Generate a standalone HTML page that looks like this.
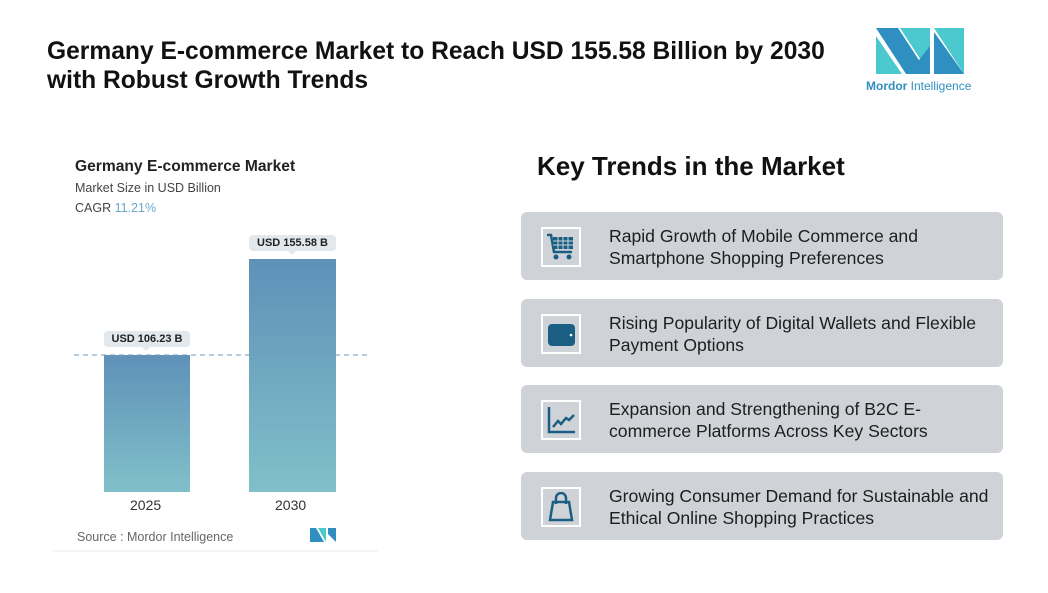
<!DOCTYPE html>
<html><head><meta charset="utf-8"><style>
body{margin:0;width:1048px;height:593px;background:#fff;font-family:"Liberation Sans",sans-serif;position:relative;overflow:hidden}
.a{position:absolute}
h1{position:absolute;left:47px;top:37px;margin:0;font-size:24.6px;line-height:29px;font-weight:bold;color:#111;white-space:nowrap}
.box{position:absolute;left:521px;width:482px;height:68px;background:#cfd3d8;border-radius:6px}
.ic{position:absolute;left:20px;top:15px;width:36px;height:36px;border:2px solid #fff;display:flex;align-items:center;justify-content:center}
.tx{position:absolute;left:88px;top:13px;font-size:17.6px;line-height:22px;color:#1d1d1d;white-space:nowrap}
.pill{position:absolute;background:#e3e8ec;border-radius:4px;font-size:11px;font-weight:bold;color:#222;text-align:center;line-height:16px;height:16px}
</style></head><body>
<h1>Germany E-commerce Market to Reach USD 155.58 Billion by 2030<br>with Robust Growth Trends</h1>
<svg class="a" style="left:874px;top:26px" width="94" height="50">
<polygon points="2,10 2,48 28,48" fill="#4cc9cf"/>
<polygon points="2,2 24,2 54,48 32,48" fill="#2f8fc0"/>
<polygon points="26,2 56,2 56,48" fill="#4cc9cf"/>
<polygon points="34,48 56,48 56,20" fill="#2f8fc0"/>
<polygon points="60,2 90,2 90,48" fill="#4cc9cf"/>
<polygon points="60,6 90,48 60,48" fill="#2f8fc0"/>
</svg>
<div class="a" style="left:866px;top:79px;font-size:12px;color:#2f8fc0"><b>Mordor</b> Intelligence</div>

<div class="a" style="left:75px;top:158px;font-size:15.6px;font-weight:bold;color:#222">Germany E-commerce Market</div>
<div class="a" style="left:75px;top:181px;font-size:12.5px;color:#444">Market Size in USD Billion</div>
<div class="a" style="left:75px;top:201px;font-size:12.5px;color:#444">CAGR <span style="color:#6aa7c9">11.21%</span></div>
<svg class="a" style="left:0;top:0" width="400" height="593">
<defs><linearGradient id="g" x1="0" y1="0" x2="0" y2="1"><stop offset="0" stop-color="#5f91b8"/><stop offset="1" stop-color="#80c0c9"/></linearGradient></defs>
<rect x="104" y="355" width="86" height="137" fill="url(#g)"/>
<rect x="249" y="259" width="87" height="233" fill="url(#g)"/>
<line x1="74" y1="355" x2="368" y2="355" stroke="#6f9ab8" stroke-dasharray="5,4"/>
<line x1="52" y1="551" x2="378" y2="551" stroke="#eee"/>
<polygon points="142,347 150,347 146,351" fill="#e3e8ec"/>
<polygon points="288,251 296,251 292,255" fill="#e3e8ec"/>
</svg>
<div class="pill" style="left:104px;top:331px;width:86px">USD 106.23 B</div>
<div class="pill" style="left:249px;top:235px;width:87px">USD 155.58 B</div>
<div class="a" style="left:130px;top:497px;font-size:14px;color:#333">2025</div>
<div class="a" style="left:275px;top:497px;font-size:14px;color:#333">2030</div>
<div class="a" style="left:77px;top:530px;font-size:12.5px;color:#666">Source : Mordor Intelligence</div>
<svg class="a" style="left:310px;top:528px" width="26" height="14"><polygon points="0,0 6,0 14,14 0,14" fill="#2f8fc0"/><polygon points="8,0 16,0 16,14" fill="#4cc9cf"/><polygon points="18,0 26,0 26,14 18,6" fill="#2f8fc0"/></svg>

<div class="a" style="left:537px;top:151px;font-size:26px;font-weight:bold;color:#111">Key Trends in the Market</div>

<div class="box" style="top:212px"><div class="ic"><svg width="30" height="30" viewBox="0 0 30 30"><path d="M1 3h4l3 17h18" stroke="#1a5f83" stroke-width="2.5" fill="none"/><rect x="7" y="5" width="20" height="12" fill="#1a5f83"/><g stroke="#cfd3d8" stroke-width="1"><line x1="12" y1="5" x2="12" y2="17"/><line x1="17" y1="5" x2="17" y2="17"/><line x1="22" y1="5" x2="22" y2="17"/><line x1="7" y1="9" x2="27" y2="9"/><line x1="7" y1="13" x2="27" y2="13"/></g><circle cx="10" cy="25" r="2.5" fill="#1a5f83"/><circle cx="23" cy="25" r="2.5" fill="#1a5f83"/></svg></div><div class="tx">Rapid Growth of Mobile Commerce and<br>Smartphone Shopping Preferences</div></div>
<div class="box" style="top:299px"><div class="ic"><svg width="30" height="30" viewBox="0 0 30 30"><rect x="2" y="5" width="27" height="22" rx="4" fill="#1a5f83"/><circle cx="25" cy="16" r="1.3" fill="#fff"/></svg></div><div class="tx">Rising Popularity of Digital Wallets and Flexible<br>Payment Options</div></div>
<div class="box" style="top:385px"><div class="ic"><svg width="30" height="30" viewBox="0 0 30 30"><path d="M3 2v25h26" stroke="#1a5f83" stroke-width="2.5" fill="none"/><path d="M7 22l5-6 3 3 5-6 3 2 5-5" stroke="#1a5f83" stroke-width="2.5" fill="none"/></svg></div><div class="tx">Expansion and Strengthening of B2C E-<br>commerce Platforms Across Key Sectors</div></div>
<div class="box" style="top:472px"><div class="ic"><svg width="30" height="30" viewBox="0 0 30 30"><path d="M7 10h16l3 18H4z" stroke="#1a5f83" stroke-width="2.5" fill="none"/><path d="M10 12V6a5 5 0 0 1 10 0v6" stroke="#1a5f83" stroke-width="2.5" fill="none"/></svg></div><div class="tx">Growing Consumer Demand for Sustainable and<br>Ethical Online Shopping Practices</div></div>
</body></html>
